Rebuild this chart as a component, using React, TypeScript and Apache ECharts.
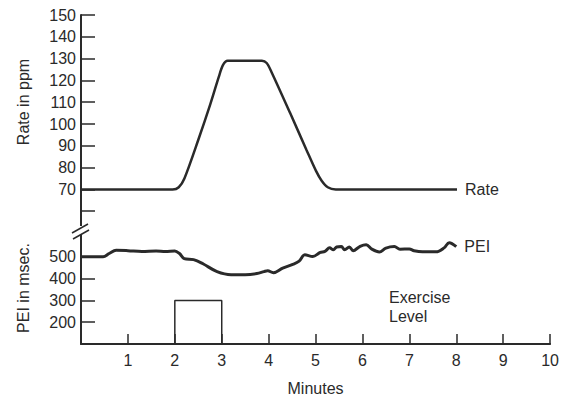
import React, { useEffect, useRef } from "react";
import * as echarts from "echarts";

const rateMinutes = [0, 1.95, 2.08, 2.2, 2.5, 2.75, 2.93, 3.02, 3.12, 3.85, 3.95, 4.05, 4.45, 4.8, 5.0, 5.12, 5.25, 5.42, 8.0];
const rateValues = [70, 70, 71, 75, 93, 109, 121.5, 127, 129, 129, 128, 124, 105, 88, 78.5, 74, 71, 70, 70];

const peiMinutes = [0, 0.47, 0.6, 0.75, 1.0, 1.3, 1.6, 1.8, 2.0, 2.1, 2.2, 2.4, 2.6, 2.9, 3.2, 3.5, 3.75, 3.9, 3.98, 4.1, 4.3, 4.5, 4.65, 4.77, 4.94, 5.1, 5.2, 5.3, 5.38, 5.45, 5.55, 5.62, 5.72, 5.8, 5.95, 6.08, 6.2, 6.36, 6.5, 6.68, 6.8, 7.0, 7.1, 7.28, 7.57, 7.74, 7.85, 8.0];
const peiValues = [500, 500, 515, 530, 528, 524, 527, 524, 527, 515, 492, 487, 468, 432, 418, 418, 423, 432, 436, 427, 448, 464, 480, 509, 501, 520, 525, 541, 532, 545, 547, 532, 545, 528, 548, 555, 535, 522, 540, 547, 535, 536, 528, 523, 523, 541, 565, 547];

const exerciseMinutes = [2, 2, 3, 3];
const exerciseValues = [100, 300, 300, 100];

const rateTickLabels = [70, 80, 90, 100, 110, 120, 130, 140, 150];
const rateTicks = [60, 70, 80, 90, 100, 110, 120, 130, 140, 150];
const peiTickLabels = [200, 300, 400, 500];
const minuteLabels = [1, 2, 3, 4, 5, 6, 7, 8, 9, 10];

const INK = "#2a2a2a";
const FONT = "Liberation Sans, Arial, sans-serif";

export default function App() {
  const ref = useRef<HTMLDivElement>(null);
  useEffect(() => {
    if (!ref.current) return;
    const chart = echarts.init(ref.current, undefined, { renderer: "svg" });
    const zip = (xs: number[], ys: number[]) => xs.map((x, i) => [x, ys[i]]);
    const labelStyle = { color: INK, fontSize: 16, fontFamily: FONT };
    chart.setOption({
      animation: false,
      backgroundColor: "#ffffff",
      grid: [
        { left: 81, right: 11, top: 15, height: 218 },
        { left: 81, right: 11, top: 235, height: 110 },
      ],
      xAxis: [
        { gridIndex: 0, type: "value", min: 0, max: 10, interval: 1, show: false },
        {
          gridIndex: 1,
          type: "value",
          min: 0,
          max: 10,
          interval: 1,
          axisLine: { lineStyle: { color: INK, width: 2 } },
          axisTick: { inside: true, length: 10, lineStyle: { color: INK, width: 1.5 }, customValues: minuteLabels },
          axisLabel: { ...labelStyle, margin: 8, customValues: minuteLabels },
          splitLine: { show: false },
          name: "Minutes",
          nameLocation: "middle",
          nameGap: 36,
          nameTextStyle: { ...labelStyle },
        },
      ],
      yAxis: [
        {
          gridIndex: 0,
          type: "value",
          min: 50,
          max: 150,
          interval: 10,
          axisLine: { show: true, lineStyle: { color: INK, width: 2 } },
          axisTick: { show: true, inside: true, length: 14, lineStyle: { color: INK, width: 1.5 }, customValues: rateTicks },
          axisLabel: { ...labelStyle, margin: 5, customValues: rateTickLabels },
          splitLine: { show: false },
        },
        {
          gridIndex: 1,
          type: "value",
          min: 100,
          max: 600,
          interval: 100,
          axisLine: { show: true, lineStyle: { color: INK, width: 2 } },
          axisTick: { show: true, inside: true, length: 14, lineStyle: { color: INK, width: 1.5 }, customValues: peiTickLabels },
          axisLabel: { ...labelStyle, margin: 5, customValues: peiTickLabels },
          splitLine: { show: false },
        },
      ],
      series: [
        {
          type: "line",
          xAxisIndex: 0,
          yAxisIndex: 0,
          data: zip(rateMinutes, rateValues),
          smooth: 0.3,
          showSymbol: false,
          lineStyle: { color: INK, width: 2.5 },
          endLabel: { show: true, formatter: "Rate", distance: 8, ...labelStyle },
        },
        {
          type: "line",
          xAxisIndex: 1,
          yAxisIndex: 1,
          data: zip(peiMinutes, peiValues),
          smooth: 0.35,
          showSymbol: false,
          lineStyle: { color: INK, width: 3 },
          endLabel: { show: true, formatter: "PEI", distance: 8, ...labelStyle },
        },
        {
          type: "line",
          xAxisIndex: 1,
          yAxisIndex: 1,
          data: zip(exerciseMinutes, exerciseValues),
          showSymbol: false,
          lineStyle: { color: INK, width: 1.5 },
        },
      ],
      graphic: [
        { type: "rect", shape: { x: 74, y: 226, width: 28, height: 8 }, style: { fill: "#ffffff" }, z: 100 },
        { type: "line", shape: { x1: 72, y1: 233, x2: 88, y2: 224 }, style: { stroke: INK, lineWidth: 1.5 }, z: 101 },
        { type: "line", shape: { x1: 73, y1: 239, x2: 89, y2: 230 }, style: { stroke: INK, lineWidth: 1.5 }, z: 101 },
        {
          type: "text",
          x: 23,
          y: 102,
          rotation: Math.PI / 2,
          style: { text: "Rate in ppm", fill: INK, font: `16px ${FONT}`, align: "center", verticalAlign: "middle" },
        },
        {
          type: "text",
          x: 23,
          y: 288,
          rotation: Math.PI / 2,
          style: { text: "PEI in msec.", fill: INK, font: `16px ${FONT}`, align: "center", verticalAlign: "middle" },
        },
        {
          type: "text",
          x: 389,
          y: 288,
          style: { text: "Exercise\nLevel", fill: INK, font: `16px ${FONT}`, lineHeight: 19, align: "left", verticalAlign: "top" },
        },
      ],
    });
    return () => chart.dispose();
  }, []);
  return <div ref={ref} style={{ position: "fixed", left: 0, top: 0, width: 562, height: 397 }} />;
}
